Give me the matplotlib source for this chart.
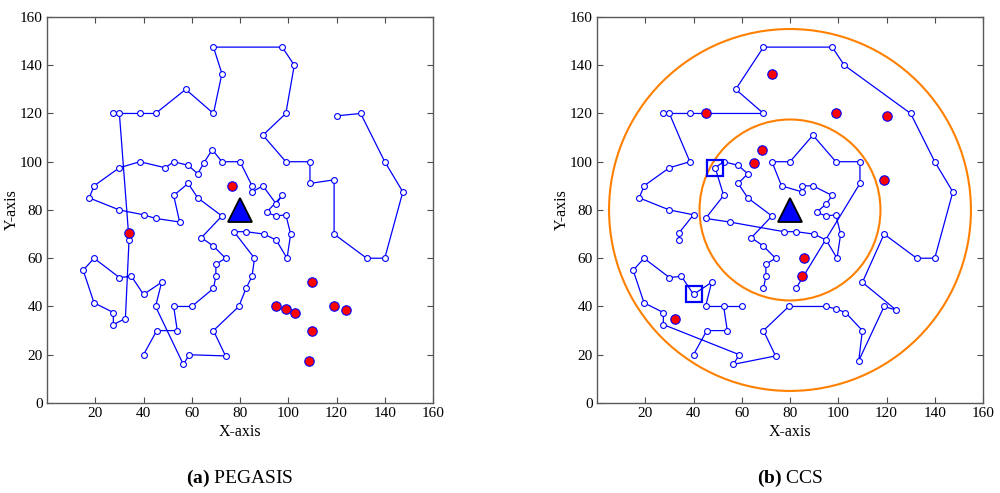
import matplotlib
matplotlib.use("Agg")
import matplotlib.pyplot as plt
import numpy as np
from matplotlib.patches import Circle

plt.rcParams['font.family'] = ['Liberation Serif', 'DejaVu Serif']
plt.rcParams['mathtext.fontset'] = 'custom'
plt.rcParams['mathtext.rm'] = 'Liberation Serif'
plt.rcParams['mathtext.bf'] = 'Liberation Serif:bold'

# sensor node positions (same deployment in both panels), ids are 1-based
node_x = [120, 130, 140, 147.5, 140, 132.5, 119, 119, 109, 109,
          99, 89.5, 99, 102.5, 97.5, 69, 72.5, 69, 57.5, 45,
          38.5, 30, 27.5, 34, 32.5, 27.5, 27.5, 19.5, 15, 19.5,
          30, 35, 40, 47.5, 45, 56.5, 59, 74, 69, 79.5,
          82.5, 85, 86, 77.5, 82.5, 90, 95, 99.5, 101, 99,
          95, 91, 97.5, 95, 89.5, 85, 85, 80, 72.5, 68.5,
          65, 62.5, 58.5, 52.5, 49, 38.5, 30, 19.5, 17.5, 30,
          40, 45, 55, 52.5, 58.5, 62.5, 72.5, 64, 69, 74,
          70, 70, 69, 60, 52.5, 54, 45.5, 40, 34, 76.5,
          95, 99, 103, 110, 110, 119, 124, 108.5]
node_y = [119, 120, 100, 87.5, 60, 60, 70, 92.5, 91, 100,
          100, 111, 120, 140, 147.5, 147.5, 136.5, 120, 130, 120,
          120, 120, 120, 67.5, 35, 32.5, 37.5, 41.5, 55, 60,
          52, 52.5, 45, 50, 40, 16, 20, 19.5, 30, 40,
          47.5, 52.5, 60, 71, 71, 70, 67.5, 60, 70, 78,
          77.5, 79, 86, 82.5, 90, 87.5, 90, 100, 100, 105,
          99.5, 95, 98.5, 100, 97.5, 100, 97.5, 90, 85, 80,
          78, 76.5, 75, 86, 91, 85, 77.5, 68.5, 65, 60,
          57.5, 52.5, 47.5, 40, 40, 30, 30, 20, 70.5, 90,
          40, 39, 37.5, 50, 30, 40, 38.5, 17.5]

# (a) PEGASIS: one chain through all alive nodes
pegasis_chain = list(range(1, 22)) + [23, 22] + list(range(24, 89))
pegasis_dead = [89, 90, 91, 92, 93, 94, 95, 96, 97, 98]

# (b) CCS: one chain per concentric level
ccs_inner = [83, 82, 81, 80, 79, 78, 77, 76, 75, 62, 63, 64, 65, 74, 72, 73,
             44, 45, 46, 47, 48, 49, 50, 51, 52, 54, 53, 55, 57, 56, 90, 59,
             58, 12, 11, 10, 9, 41]
ccs_outer = [24, 89, 71, 70, 69, 68, 67, 66, 22, 23, 21, 18, 19, 16, 15, 14,
             2, 3, 4, 5, 6, 7, 94, 97, 96, 98, 95, 93, 92, 91, 40, 39, 38, 36,
             37, 26, 27, 28, 29, 30, 31, 32, 33, 34, 35, 85, 86, 87, 88]
ccs_branch = [85, 84]
ccs_dead = [1, 8, 13, 17, 20, 25, 42, 43, 60, 61]
ccs_leaders = [65, 33]
ring_radii = [37.5, 75]
sink = (80, 80)

nx = np.array(node_x)
ny = np.array(node_y)


def draw_chain(ax, chain):
    idx = np.array(chain) - 1
    ax.plot(nx[idx], ny[idx], '-', color='blue', lw=0.9, zorder=2)


def draw_nodes(ax, dead):
    alive = [i for i in range(len(nx)) if i + 1 not in dead]
    ax.plot(nx[alive], ny[alive], 'o', ms=4.2, mfc='white', mec='blue',
            mew=0.8, ls='none', zorder=4)
    d = np.array(dead) - 1
    ax.plot(nx[d], ny[d], 'o', ms=6.8, mfc='red', mec='blue', mew=0.8,
            ls='none', zorder=5)
    ax.plot(sink[0], sink[1], '^', ms=17, mfc='blue', mec='black', mew=1.3,
            zorder=6)


def style_axes(ax):
    ax.set_xlim(0, 160)
    ax.set_ylim(0, 160)
    ax.set_xticks(range(20, 161, 20))
    ax.set_yticks(range(0, 161, 20))
    ax.tick_params(direction='in', length=4, top=True, right=True,
                   labelsize=11, pad=3, color='0.3')
    for s in ax.spines.values():
        s.set_color('0.35')
        s.set_linewidth(1.0)
    ax.set_xlabel('X-axis', fontsize=11.5, labelpad=3)
    ax.set_ylabel('Y-axis', fontsize=11.5, labelpad=0)


fig = plt.figure(figsize=(10, 4.93), dpi=100)
ax1 = fig.add_axes([0.047, 0.1826, 0.386, 0.783])
ax2 = fig.add_axes([0.597, 0.1826, 0.386, 0.783])

draw_chain(ax1, pegasis_chain)
draw_nodes(ax1, pegasis_dead)
style_axes(ax1)

for ch in [ccs_inner, ccs_outer, ccs_branch]:
    draw_chain(ax2, ch)
for r in ring_radii:
    ax2.add_patch(Circle(sink, r, fill=False, ec='#FF8000', lw=1.5, zorder=3))
draw_nodes(ax2, ccs_dead)
lead = np.array(ccs_leaders) - 1
ax2.plot(nx[lead], ny[lead], 's', ms=12, mfc='none', mec='blue', mew=1.6,
         ls='none', zorder=5)
style_axes(ax2)

fig.text(0.240, 0.030, r'$\mathbf{(a)}$ PEGASIS', ha='center', va='center',
         fontsize=14)
fig.text(0.790, 0.030, r'$\mathbf{(b)}$ CCS', ha='center', va='center',
         fontsize=14)

fig.savefig('out.png', dpi=100)
